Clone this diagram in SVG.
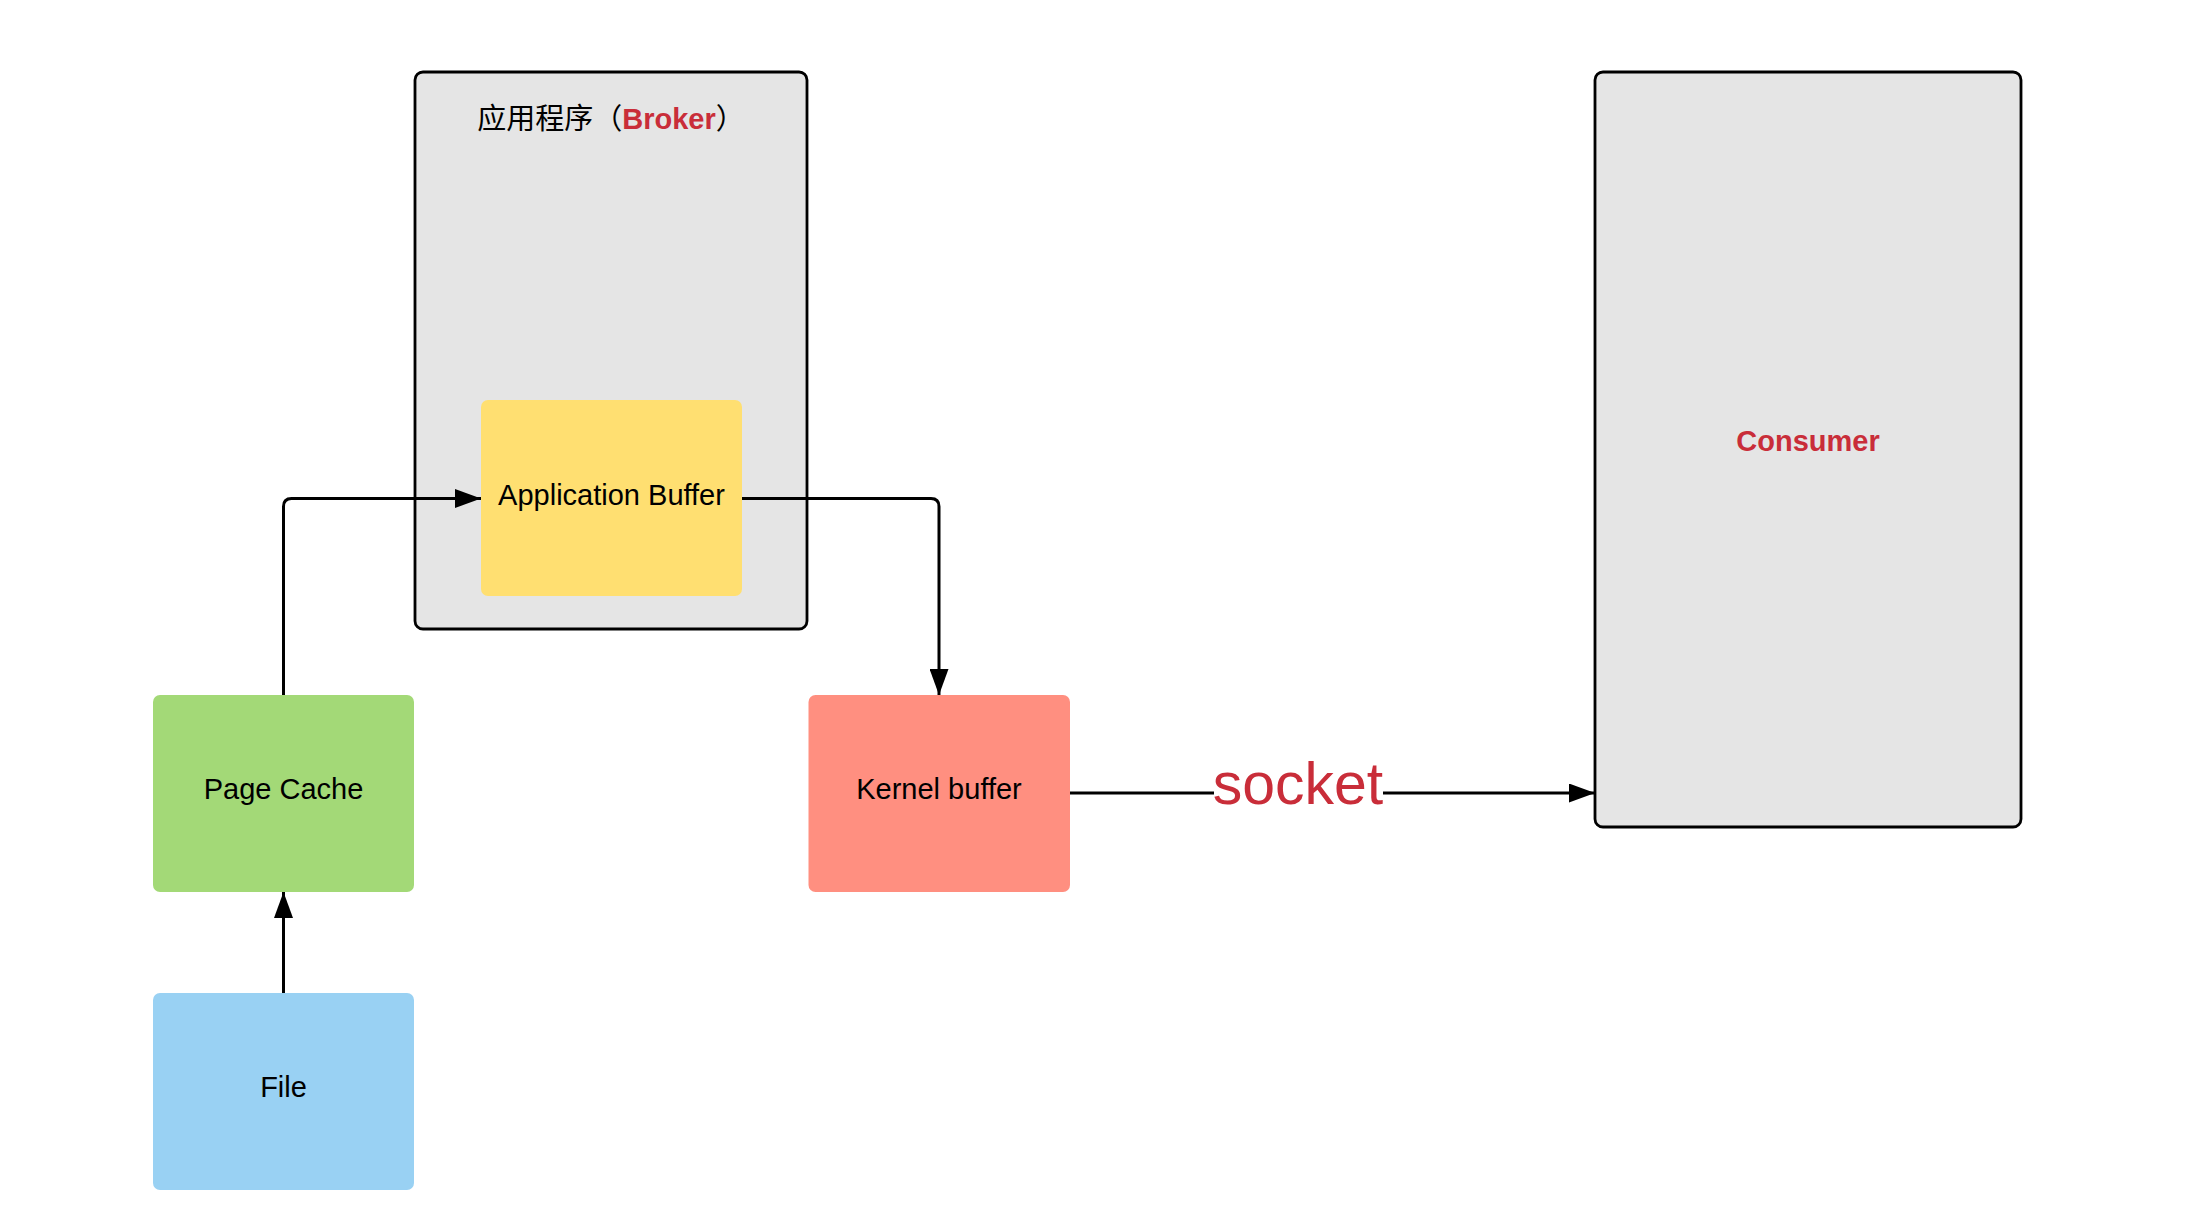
<svg xmlns="http://www.w3.org/2000/svg" width="2194" height="1210" viewBox="0 0 2194 1210">
  <style>
    .lbl { font-family: "Liberation Sans", "Noto Sans CJK SC", Arial, sans-serif; font-size: 29px; fill: #000; text-anchor: middle; }
    .red { fill: #c92d39; font-weight: bold; }
    .container { fill: #e5e5e5; stroke: #000; stroke-width: 2.8; }
    .conn { fill: none; stroke: #000; stroke-width: 3; }
  </style>
  <defs>
    <marker id="arrow" viewBox="0 0 26 19" refX="26" refY="9.5" markerWidth="26" markerHeight="19" markerUnits="userSpaceOnUse" orient="auto">
      <path d="M0,0 L26,9.5 L0,19 z" fill="#000"/>
    </marker>
  </defs>
  <rect width="2194" height="1210" fill="#ffffff"/>

  <g id="broker">
    <rect class="container" x="415" y="72" width="392" height="557" rx="8"/>
    <text class="lbl" x="611" y="129">应用程序（<tspan class="red">Broker</tspan>）</text>
  </g>

  <g id="consumer">
    <rect class="container" x="1595" y="72" width="426" height="755" rx="8"/>
    <text class="lbl red" x="1808" y="451">Consumer</text>
  </g>

  <g id="application-buffer">
    <rect x="481" y="400" width="261" height="196" rx="7" fill="#ffdf71"/>
    <text class="lbl" x="611.5" y="505">Application Buffer</text>
  </g>

  <g id="page-cache">
    <rect x="153" y="695" width="261" height="197" rx="7" fill="#a3d977"/>
    <text class="lbl" x="283.5" y="799">Page Cache</text>
  </g>

  <g id="file">
    <rect x="153" y="993" width="261" height="197" rx="7" fill="#99d1f3"/>
    <text class="lbl" x="283.5" y="1097">File</text>
  </g>

  <g id="kernel-buffer">
    <rect x="808.5" y="695" width="261.5" height="197" rx="7" fill="#ff8f80"/>
    <text class="lbl" x="939" y="799">Kernel buffer</text>
  </g>

  <g id="connectors">
    <path class="conn" d="M283.5,993 L283.5,892" marker-end="url(#arrow)"/>
    <path class="conn" d="M283.5,695 L283.5,506.5 Q283.5,498.5 291.5,498.5 L481,498.5" marker-end="url(#arrow)"/>
    <path class="conn" d="M742,498.5 L931,498.5 Q939,498.5 939,506.5 L939,695" marker-end="url(#arrow)"/>
    <path class="conn" d="M1070,793 L1595,793" marker-end="url(#arrow)"/>
    <rect x="1214" y="786" width="169" height="14" fill="#ffffff"/>
    <text class="lbl" x="1298" y="804" style="font-size:59px;fill:#c92d39">socket</text>
  </g>
</svg>
